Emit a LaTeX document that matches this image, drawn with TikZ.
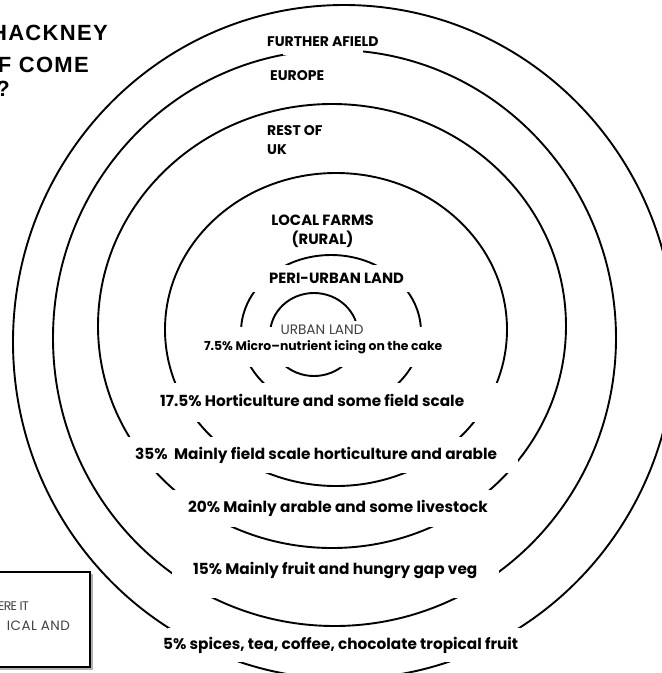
\documentclass[tikz,border=0pt]{standalone}
\usepackage{fontspec}
\setmainfont{Poppins}
\newfontfamily\titlefont{Liberation Sans}[LetterSpace=6]
\newfontfamily\notefont{Poppins}[LetterSpace=-6]
\newfontfamily\notefontwide{Poppins}[LetterSpace=3]
\begin{document}
\begin{tikzpicture}[x=1pt,y=-1pt,
  ring/.style={line width=1.9pt},
  wbox/.style={fill=white, inner sep=0pt, anchor=west},
  titlestyle/.style={font=\titlefont\bfseries\fontsize{22}{26}\selectfont, inner sep=0pt, anchor=base east},
  toplab/.style={font=\bfseries\fontsize{14}{19.5}\selectfont, inner sep=0pt},
  midlab/.style={font=\bfseries\fontsize{14.8}{19.5}\selectfont, inner sep=0pt},
  botlab/.style={font=\bfseries\fontsize{15.3}{18}\selectfont},
  smalllab/.style={font=\bfseries\fontsize{12.4}{15}\selectfont},
  thinlab/.style={font=\fontsize{13.7}{16}\selectfont, text=black!75},
  notelab/.style={text=black!75, inner sep=0pt, anchor=base east},
  notebox/.style={line width=2pt},
  noteshadow/.style={line width=1.2pt, black!30}]
\useasboundingbox (0,0) rectangle (662,673);
\clip (0,0) rectangle (662,673);
% rings
\draw[ring] (344,342) ellipse [x radius=331pt, y radius=337pt];
\draw[ring] (334.5,338) ellipse [x radius=281.5pt, y radius=288pt];
\draw[ring] (332,326) ellipse [x radius=234pt, y radius=222pt];
\draw[ring] (336,329.5) ellipse [x radius=171pt, y radius=156.5pt];
\draw[ring] (331,332) ellipse [x radius=90pt, y radius=77pt];
\draw[ring] (314,334.5) ellipse [x radius=44pt, y radius=41.5pt];
% title
\node[titlestyle] (t1) at (108,40) {HACKNEY};
\node[titlestyle] (t2) at (89,72) {F COME};
\node[titlestyle] (t3) at (10,96) {?};
% top labels
\node[wbox, toplab, minimum height=25pt] (further) at (283,42) {\makebox[80pt][l]{\hspace*{-16pt}FURTHER AFIELD}};
\node[toplab, anchor=west] (europe) at (270,76) {EUROPE};
\node[toplab, anchor=north west, align=left] (restuk) at (267,125) {REST OF\\UK};
\node[midlab, align=center, anchor=north] (local) at (322.5,214.5) {LOCAL FARMS\\(RURAL)};
\node[wbox, midlab, minimum height=27pt] (peri) at (243,278.5) {\makebox[177pt][l]{\hspace*{26pt}\raisebox{-5pt}{PERI-URBAN LAND}}};
% inner labels
\node[wbox, smalllab, minimum height=40pt] (icing) at (200.5,347) {\makebox[245pt][c]{7.5\% Micro–nutrient icing on the cake}};
\node[thinlab, fill=white, inner xsep=3pt, inner ysep=4pt] (urban) at (322,330) {URBAN LAND};
% bottom labels
\node[wbox, botlab, minimum height=39pt] (hort) at (155,402.5) {\makebox[350pt][l]{\hspace*{5pt}\raisebox{5pt}{17.5\% Horticulture and some field scale}}};
\node[wbox, botlab, minimum height=36pt] (field) at (128,455) {\makebox[390pt][l]{\hspace*{7pt}35\%\ \ Mainly field scale horticulture and arable}};
\node[wbox, botlab, minimum height=37pt] (arable) at (170,508.5) {\makebox[322pt][l]{\hspace*{18pt}20\% Mainly arable and some livestock}};
\node[wbox, botlab, minimum height=43pt] (fruit) at (172,576.5) {\makebox[327pt][l]{\hspace*{21pt}\raisebox{16pt}{15\% Mainly fruit and hungry gap veg}}};
\node[wbox, botlab, minimum height=34pt] (spices) at (168,645) {\makebox[354pt][l]{\hspace*{-5pt}5\% spices, tea, coffee, chocolate tropical fruit}};
% note box
\draw[noteshadow] (92,574) -- (92,669) -- (-5,669);
\draw[notebox] (-5,572) rectangle (90,667);
\node[notelab, font=\notefont\fontsize{12.5}{20}\selectfont] (n1) at (29,610) {ERE IT};
\node[notelab, font=\notefontwide\fontsize{13.5}{20}\selectfont] (n2) at (70,630) {ICAL AND};
\end{tikzpicture}
\end{document}
